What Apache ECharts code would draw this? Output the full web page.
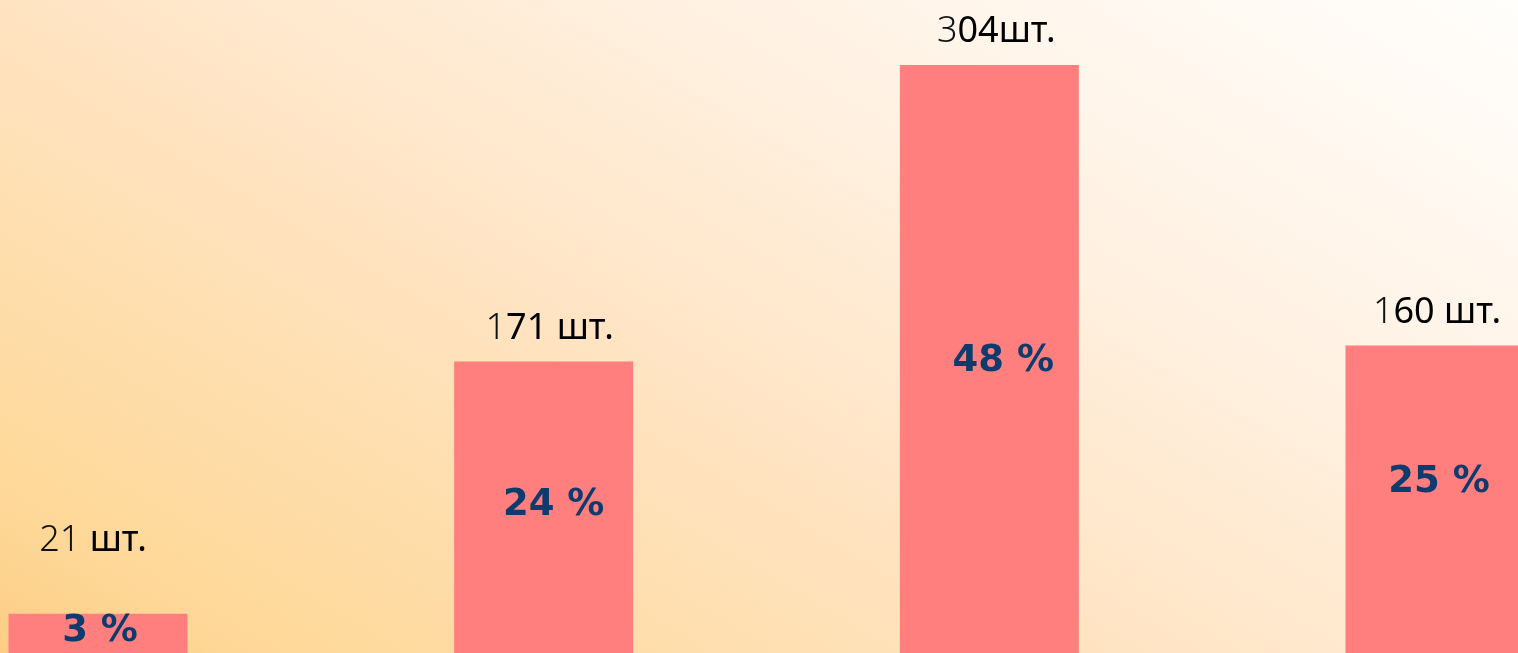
<!DOCTYPE html>
<html>
    <head>
        <meta charset="utf-8">
        <title>шт.</title>
        <style>
            html, body { margin: 0; padding: 0; }
            #chart1 { width: 1518px; height: 653px; }
        </style>
        <script src="https://cdn.jsdelivr.net/npm/echarts@6/dist/echarts.min.js"></script>
    </head>
    <body>
        <div id="chart1"></div>
        <script type="text/javascript">
            // данные
            var categories = ['1', '2', '3', '4'];
            var counts = ['21 шт.', '171 шт.', '304шт.', '160 шт.'];
            var percentLabels = ['3 %', '24 %', '48 %', '25 %'];
            var barValues = [3.2, 23.8, 48.0, 25.1];

            // небольшие сдвиги подписей
            var topDistance = [55, 15, 15, 15];
            var topShift = [-5, 6, 7, 2];
            var insideOffsets = [[2, -2], [10, -2], [14, 2], [4, -17]];

            // первая цифра подписи тоньше
            function countLabel(s) {
                var thin = s.charAt(0) === '2' ? s.slice(0, 2) : s.charAt(0);
                return '{l|' + thin + '}{r|' + s.slice(thin.length) + '}';
            }

            var myChart1 = echarts.init(document.getElementById('chart1'));

            myChart1.setOption({
                // фон: от оранжевого снизу слева к белому сверху справа
                backgroundColor: new echarts.graphic.LinearGradient(0, 653, 676, -495, [
                    { offset: 0, color: '#fccd85' },
                    { offset: 0.1, color: '#fed898' },
                    { offset: 0.45, color: '#ffe5c6' },
                    { offset: 0.7, color: '#fff2e4' },
                    { offset: 1, color: '#fffefc' }
                ], true),
                animation: false,
                grid: { left: 98, right: 83, top: 0, bottom: 0 },
                xAxis: {
                    type: 'category',
                    data: categories,
                    boundaryGap: false,
                    show: false
                },
                yAxis: {
                    type: 'value',
                    min: 0,
                    max: 53.3,
                    show: false
                },
                series: [{
                    name: 'percent',
                    type: 'bar',
                    barWidth: 179,
                    itemStyle: { color: '#ff7f7f' },
                    data: barValues.map(function (v, i) {
                        return {
                            value: v,
                            label: {
                                show: true,
                                position: 'inside',
                                offset: insideOffsets[i],
                                formatter: percentLabels[i],
                                color: '#0d3b6e',
                                fontFamily: 'DejaVu Sans',
                                fontWeight: 'bold',
                                fontSize: 37
                            }
                        };
                    })
                }, {
                    name: 'count',
                    type: 'bar',
                    barWidth: 179,
                    barGap: '-100%',
                    itemStyle: { color: 'transparent' },
                    data: barValues.map(function (v, i) {
                        return {
                            value: v,
                            label: {
                                show: true,
                                position: 'top',
                                distance: topDistance[i],
                                offset: [topShift[i], 0],
                                formatter: countLabel(counts[i]),
                                rich: {
                                    l: {
                                        fontFamily: 'Noto Sans',
                                        fontWeight: 300,
                                        fontSize: 36,
                                        color: '#111'
                                    },
                                    r: {
                                        fontFamily: 'Noto Sans',
                                        fontSize: 36,
                                        color: '#000'
                                    }
                                }
                            }
                        };
                    })
                }]
            });
        </script>
    </body>
</html>
